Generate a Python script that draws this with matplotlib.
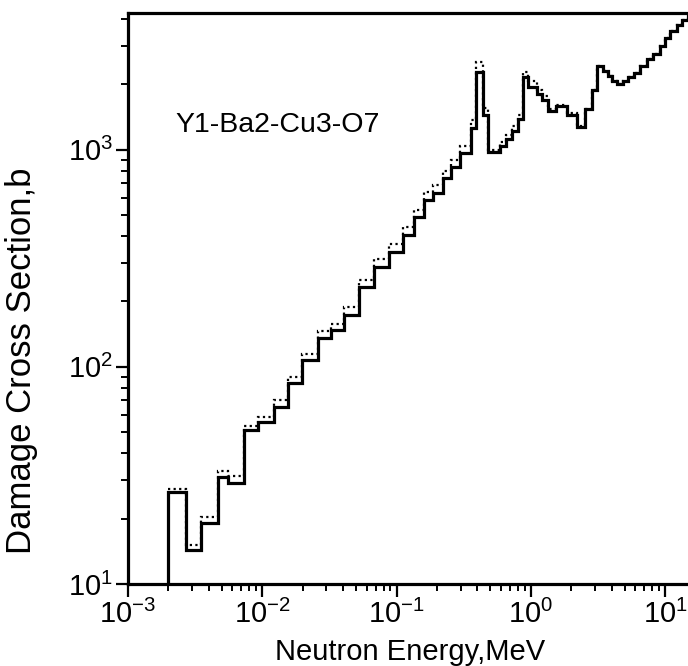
import matplotlib
matplotlib.use("Agg")
import matplotlib.pyplot as plt
from matplotlib.ticker import LogLocator, NullFormatter

plt.rcParams['font.family'] = ['Liberation Sans', 'DejaVu Sans']

# group boundaries, MeV
edges = [2.0e-3, 2.7e-3, 3.5e-3, 4.67e-3, 5.54e-3, 7.29e-3, 9.26e-3, 1.22e-2,
         1.55e-2, 1.97e-2, 2.59e-2, 3.23e-2, 4.04e-2, 5.22e-2, 6.75e-2, 8.72e-2,
         0.111, 0.134, 0.159, 0.188, 0.220, 0.256, 0.299, 0.361, 0.393, 0.443,
         0.483, 0.593, 0.657, 0.729, 0.807, 0.88, 0.958, 1.118, 1.218, 1.349,
         1.547, 1.868, 2.216, 2.542, 2.866, 3.12, 3.46, 3.77, 4.04, 4.40, 4.87,
         5.31, 5.88, 6.52, 7.35, 8.14, 9.18, 10.0, 10.9, 12.28, 13.38, 14.9, 20.0]

# damage cross section, b (solid)
sigma_solid = [26.5, 14.3, 19.1, 31, 29.2, 51, 55.8, 65.5, 84.6, 107,
               136, 147, 174, 233, 289, 339, 406, 490, 586, 630,
               740, 832, 967, 1260, 2270, 1450, 980, 1040, 1120, 1220,
               1380, 2150, 1940, 1800, 1700, 1500, 1580, 1450, 1270, 1530,
               1880, 2420, 2290, 2180, 2080, 2000, 2080, 2170, 2250, 2420,
               2600, 2750, 3000, 3250, 3500, 3750, 3960, 4200]

# damage cross section, b (dotted)
sigma_dotted = [27.5, 15.1, 20.3, 33, 31.3, 53.5, 59, 70, 90, 115,
                146, 158, 188, 252, 313, 368, 440, 530, 635, 685,
                800, 900, 1040, 1370, 2520, 1560, 1000, 1080, 1170, 1280,
                1450, 2280, 2060, 1880, 1760, 1540, 1600, 1470, 1280, 1540,
                1880, 2420, 2290, 2180, 2080, 2000, 2080, 2170, 2250, 2420,
                2600, 2750, 3000, 3250, 3500, 3750, 3960, 4200]

fig = plt.figure(figsize=(6.88, 6.66), dpi=100)
ax = fig.add_axes([0.186, 0.123, 0.814, 0.858])

ax.stairs(sigma_dotted, edges, baseline=None, color='black', lw=1.6,
          linestyle=(0, (1, 1.5)))
ax.stairs(sigma_solid, edges, baseline=1, color='black', lw=2.3)

ax.set_xscale('log')
ax.set_yscale('log')
ax.set_xlim(1e-3, 14.8)
ax.set_ylim(10, 4270)

ax.xaxis.set_major_locator(LogLocator(base=10, numticks=10))
ax.xaxis.set_minor_locator(LogLocator(base=10, subs=range(2, 10), numticks=100))
ax.xaxis.set_minor_formatter(NullFormatter())
ax.yaxis.set_major_locator(LogLocator(base=10, numticks=10))
ax.yaxis.set_minor_locator(LogLocator(base=10, subs=range(2, 10), numticks=100))
ax.yaxis.set_minor_formatter(NullFormatter())

ax.tick_params(which='major', direction='out', length=9, width=1.6,
               labelsize=21, pad=2)
ax.tick_params(which='minor', direction='out', length=5, width=1.4)

ax.spines['right'].set_visible(False)
for side in ('left', 'bottom', 'top'):
    ax.spines[side].set_linewidth(2.3)

ax.set_xlabel('Neutron Energy,MeV', fontsize=21, va='center')
ax.xaxis.set_label_coords(0.504, -0.119)
ax.set_ylabel('Damage Cross Section,b', fontsize=25, va='center', ha='center')
ax.yaxis.set_label_coords(-0.19, 0.39)

ax.text(2.27e-3, 1300, 'Y1-Ba2-Cu3-O7', fontsize=20.5, ha='left', va='center')

fig.savefig('out.png', dpi=100)
